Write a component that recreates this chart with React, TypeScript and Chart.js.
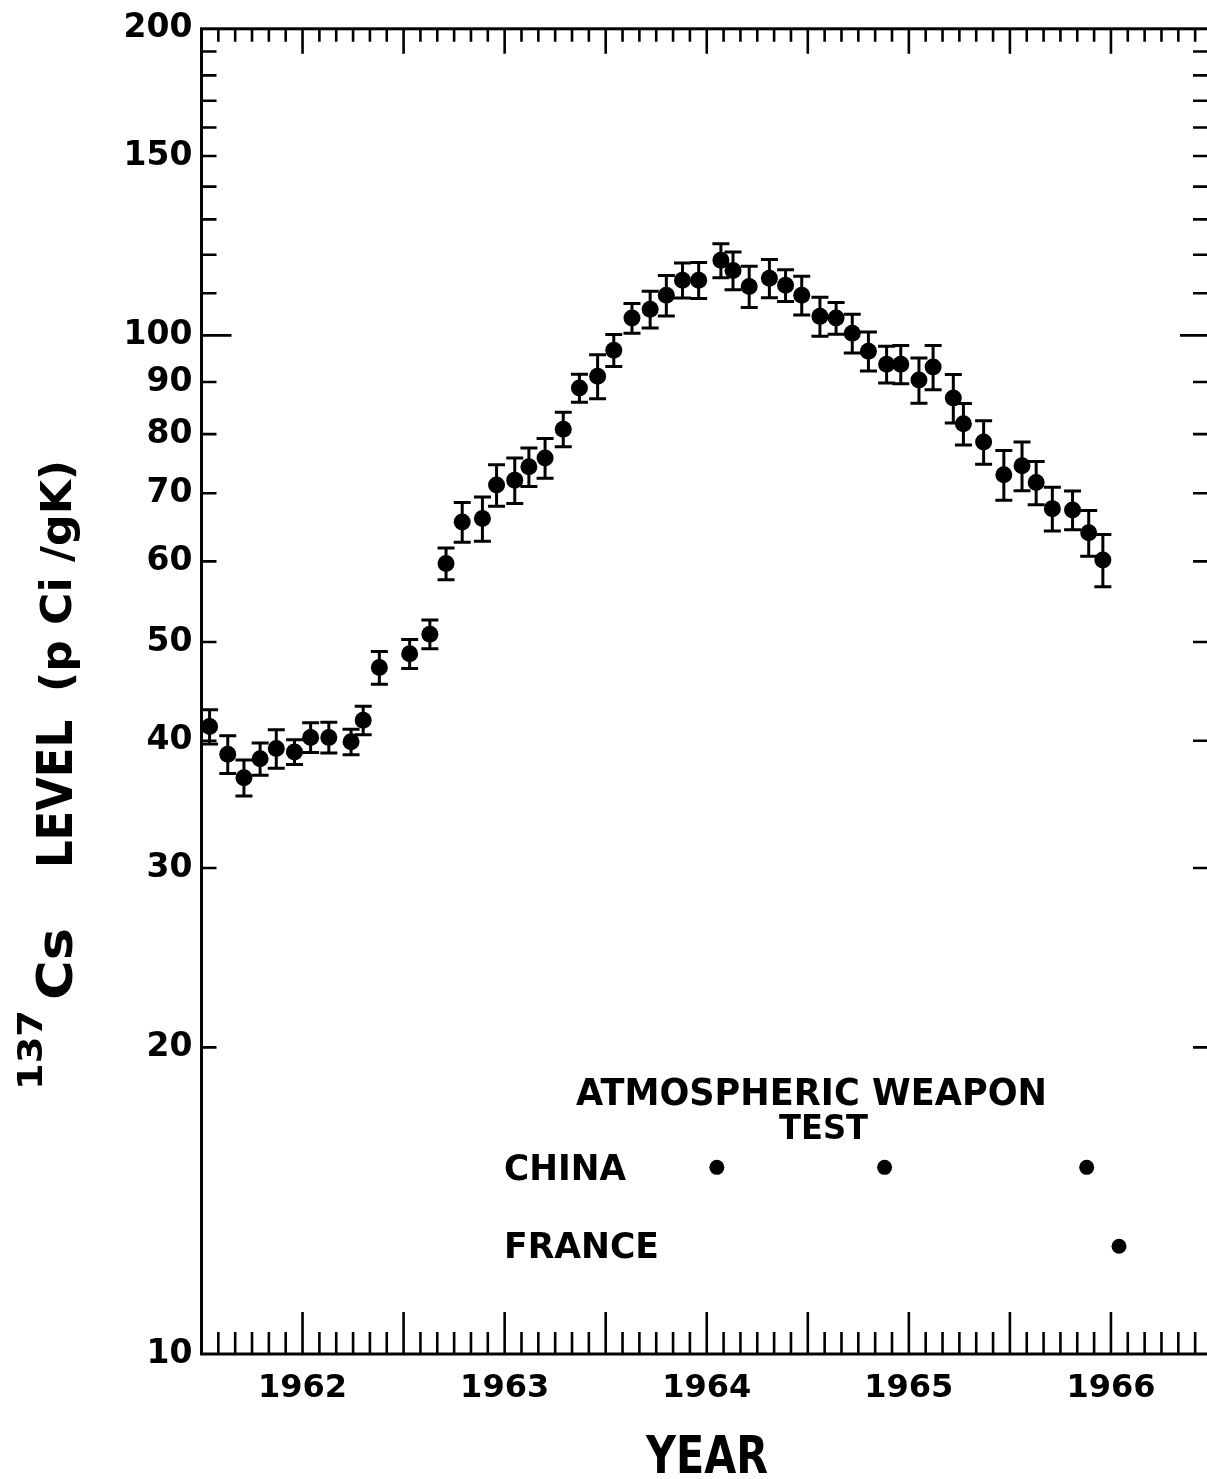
import { useEffect, useRef } from "react";
import { Chart, registerables } from "chart.js";

Chart.register(...registerables);

// Sampling dates (decimal years) of the monthly 137Cs body-burden measurements
const sampleDates = [
  1961.54, 1961.63, 1961.71, 1961.79, 1961.87, 1961.96, 1962.04, 1962.13, 1962.24, 1962.3,
  1962.38, 1962.53, 1962.63, 1962.71, 1962.79, 1962.89, 1962.96, 1963.05, 1963.12, 1963.2,
  1963.29, 1963.37, 1963.46, 1963.54, 1963.63, 1963.72, 1963.8, 1963.88, 1963.96, 1964.07,
  1964.13, 1964.21, 1964.31, 1964.39, 1964.47, 1964.56, 1964.64, 1964.72, 1964.8, 1964.89,
  1964.96, 1965.05, 1965.12, 1965.22, 1965.27, 1965.37, 1965.47, 1965.56, 1965.63, 1965.71,
  1965.81, 1965.89, 1965.96,
];

// 137Cs level, pCi per gram of potassium
const csLevel = [
  41.3, 38.8, 36.8, 38.4, 39.3, 39.0, 40.3, 40.3, 39.9, 41.9,
  47.2, 48.7, 50.9, 59.7, 65.6, 66.1, 71.3, 72.1, 74.3, 75.8,
  80.9, 88.8, 91.2, 96.7, 104.0, 106.1, 109.5, 113.3, 113.3, 118.5,
  115.8, 111.7, 113.8, 112.0, 109.5, 104.4, 104.0, 100.5, 96.5, 93.7,
  93.7, 90.4, 93.1, 86.8, 81.9, 78.6, 73.0, 74.5, 71.7, 67.6,
  67.4, 64.0, 60.2,
];

// One-sigma uncertainty of each measurement (pCi/gK)
const csError = [
  1.6, 1.65, 1.5, 1.4, 1.7, 1.1, 1.35, 1.4, 1.15, 1.35,
  1.75, 1.6, 1.65, 2.15, 2.95, 3.3, 3.35, 3.7, 3.25, 3.4,
  3.15, 2.8, 4.55, 3.5, 3.5, 4.4, 5.0, 4.5, 4.6, 4.55,
  4.95, 5.2, 4.9, 4.0, 4.8, 4.6, 3.75, 4.4, 4.25, 3.9,
  4.05, 4.6, 4.65, 4.75, 3.85, 3.85, 4.1, 4.1, 3.5, 3.35,
  2.95, 3.3, 3.55,
];

// Dates of atmospheric weapon tests, drawn as marker rows
const chinaTests = [1964.05, 1964.88, 1965.88];
const franceTests = [1966.04];
const chinaRowLevel = 15.25;
const franceRowLevel = 12.76;

// Axis ranges and tick labels
const yearMin = 1961.5;
const yearMax = 1966.5;
const yearTicks = [1962, 1963, 1964, 1965, 1966];
const levelTicks = [10, 20, 30, 40, 50, 60, 70, 80, 90, 100, 150, 200];
const levelMinorTicks = [110, 120, 130, 140, 160, 170, 180, 190];

const FONT = "'DejaVu Sans', 'Liberation Sans', sans-serif";

// Draw bold text squeezed/stretched so it spans [x0, x1] along its baseline
function fitText(
  ctx: CanvasRenderingContext2D,
  text: string,
  x0: number,
  x1: number,
  baseline: number,
  cap: number
) {
  const size = cap / 0.729;
  ctx.font = `bold ${size}px ${FONT}`;
  const w = ctx.measureText(text).width;
  ctx.save();
  ctx.translate(x0, baseline);
  ctx.scale((x1 - x0) / w, 1);
  ctx.textAlign = "left";
  ctx.textBaseline = "alphabetic";
  ctx.fillText(text, 0, 0);
  ctx.restore();
}

// Same, but rotated to read bottom-to-top; spans screen y from yBottom up to yTop
function fitTextVertical(
  ctx: CanvasRenderingContext2D,
  text: string,
  yBottom: number,
  yTop: number,
  baselineX: number,
  cap: number
) {
  ctx.save();
  ctx.translate(baselineX, yBottom);
  ctx.rotate(-Math.PI / 2);
  fitText(ctx, text, 0, yBottom - yTop, 0, cap);
  ctx.restore();
}

const frameAndTicks = {
  id: "frameAndTicks",
  beforeDatasetsDraw(chart: any) {
    const { ctx, chartArea: a, scales } = chart;
    const x = scales.x;
    const y = scales.y;
    ctx.save();
    ctx.strokeStyle = "#000";
    ctx.lineWidth = 3;
    ctx.strokeRect(a.left, a.top, a.right - a.left, a.bottom - a.top);

    ctx.lineWidth = 2.6;
    ctx.beginPath();
    const months = Math.round((yearMax - yearMin) * 12);
    for (let k = 1; k < months; k++) {
      const px = x.getPixelForValue(yearMin + k / 12);
      const major = k % 6 === 0;
      ctx.moveTo(px, a.bottom);
      ctx.lineTo(px, a.bottom - (major ? 42 : 22));
      ctx.moveTo(px, a.top);
      ctx.lineTo(px, a.top + (major ? 25 : 13));
    }
    for (const v of [...levelTicks, ...levelMinorTicks]) {
      if (v === 10 || v === 200) continue;
      const py = y.getPixelForValue(v);
      const decade = v === 100;
      ctx.moveTo(a.left, py);
      ctx.lineTo(a.left + (decade ? 30 : 15), py);
      ctx.moveTo(a.right, py);
      ctx.lineTo(a.right - (decade ? 32 : 19), py);
    }
    ctx.stroke();

    // error bars of the measurement series
    ctx.lineWidth = 3;
    ctx.beginPath();
    for (let i = 0; i < csLevel.length; i++) {
      const px = x.getPixelForValue(sampleDates[i]);
      const hi = y.getPixelForValue(csLevel[i] + csError[i]);
      const lo = y.getPixelForValue(csLevel[i] - csError[i]);
      ctx.moveTo(px, hi);
      ctx.lineTo(px, lo);
      ctx.moveTo(px - 8.5, hi);
      ctx.lineTo(px + 8.5, hi);
      ctx.moveTo(px - 8.5, lo);
      ctx.lineTo(px + 8.5, lo);
    }
    ctx.stroke();
    ctx.restore();
  },
  afterDraw(chart: any) {
    const { ctx } = chart;
    ctx.save();
    ctx.fillStyle = "#000";
    // annotation block
    fitText(ctx, "ATMOSPHERIC WEAPON", 576, 1047, 1105, 27);
    fitText(ctx, "TEST", 779, 868, 1139, 25);
    fitText(ctx, "CHINA", 504, 626, 1180, 26);
    fitText(ctx, "FRANCE", 504, 659, 1258, 26);
    // axis titles
    fitText(ctx, "YEAR", 646, 768, 1473, 37);
    fitTextVertical(ctx, "(p Ci /gK)", 692, 460, 71, 31);
    fitTextVertical(ctx, "LEVEL", 868, 720, 72, 36);
    fitTextVertical(ctx, "Cs", 1000, 928, 72, 36);
    fitTextVertical(ctx, "137", 1090, 1010, 42, 24);
    ctx.restore();
  },
};

export default function App() {
  const canvasRef = useRef<HTMLCanvasElement>(null);

  useEffect(() => {
    const canvas = canvasRef.current;
    if (!canvas) return;
    const tickFont = { family: FONT, weight: "bold" as const };
    const chart = new Chart(canvas, {
      type: "scatter",
      data: {
        datasets: [
          {
            label: "137Cs",
            data: sampleDates.map((d, i) => ({ x: d, y: csLevel[i] })),
            pointRadius: 8.5,
            pointBackgroundColor: "#000",
            pointBorderWidth: 0,
          },
          {
            label: "China",
            data: chinaTests.map((d) => ({ x: d, y: chinaRowLevel })),
            pointRadius: 7.5,
            pointBackgroundColor: "#000",
            pointBorderWidth: 0,
          },
          {
            label: "France",
            data: franceTests.map((d) => ({ x: d, y: franceRowLevel })),
            pointRadius: 7.5,
            pointBackgroundColor: "#000",
            pointBorderWidth: 0,
          },
        ],
      },
      options: {
        responsive: false,
        animation: false,
        devicePixelRatio: 1,
        layout: { padding: { left: 0, right: 10, top: 26, bottom: 0 } },
        plugins: {
          legend: { display: false },
          tooltip: { enabled: false },
        },
        scales: {
          x: {
            type: "linear",
            min: yearMin,
            max: yearMax,
            afterBuildTicks: (s: any) => {
              s.ticks = yearTicks.map((v) => ({ value: v }));
            },
            afterFit: (s: any) => {
              s.height = 125;
            },
            grid: { display: false, drawTicks: false },
            border: { display: false },
            ticks: {
              autoSkip: false,
              maxRotation: 0,
              padding: 15,
              color: "#000",
              font: { ...tickFont, size: 32 },
              callback: (v: any) => String(v),
            },
          },
          y: {
            type: "logarithmic",
            min: 10,
            max: 200,
            afterBuildTicks: (s: any) => {
              s.ticks = levelTicks.map((v) => ({ value: v }));
            },
            afterFit: (s: any) => {
              s.width = 201.5;
            },
            grid: { display: false, drawTicks: false },
            border: { display: false },
            ticks: {
              autoSkip: false,
              padding: 9,
              color: "#000",
              font: { ...tickFont, size: 33 },
              callback: (v: any) => String(v),
            },
          },
        },
      },
      plugins: [frameAndTicks],
    });
    return () => chart.destroy();
  }, []);

  return (
    <div
      style={{
        position: "absolute",
        left: 0,
        top: 0,
        width: 1207,
        height: 1479,
        overflow: "hidden",
        background: "#fff",
      }}
    >
      <canvas
        ref={canvasRef}
        width={1222}
        height={1479}
        style={{ display: "block", width: 1222, height: 1479 }}
      />
    </div>
  );
}
